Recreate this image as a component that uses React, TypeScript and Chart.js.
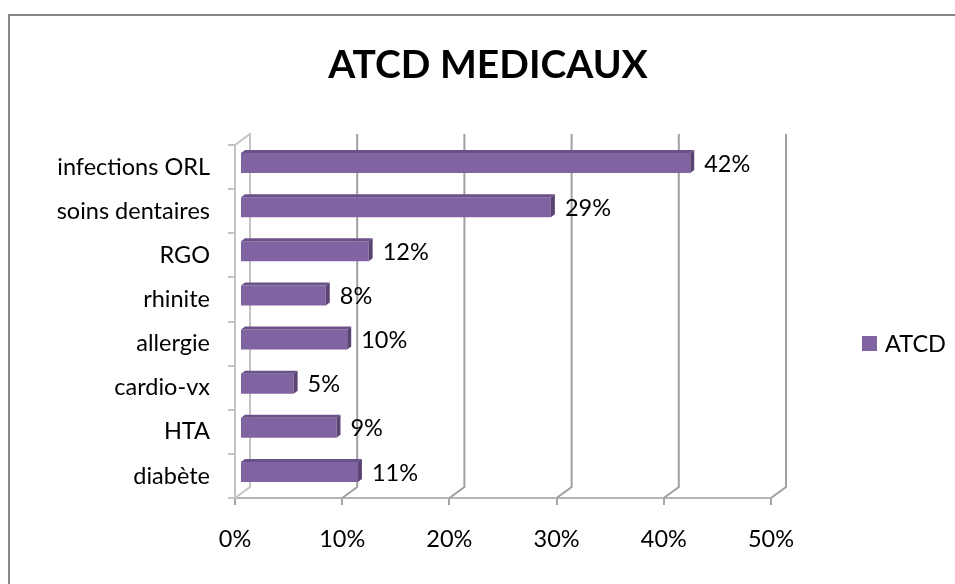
import React, { useEffect, useRef } from "react";
import { Chart, registerables } from "chart.js";

Chart.register(...registerables);

const title = "ATCD MEDICAUX";
const seriesName = "ATCD";
const categories = [
  "infections ORL",
  "soins dentaires",
  "RGO",
  "rhinite",
  "allergie",
  "cardio-vx",
  "HTA",
  "diabète",
];
const values = [42, 29, 12, 8, 10, 5, 9, 11];
const xTickValues = [0, 10, 20, 30, 40, 50];

const FONT = 'Lato, "Liberation Sans", Arial, sans-serif';
const TEXT_SIZE = 23.5;
const PURPLE = "#8064A2";
const PURPLE_TOP = "#6B5189";
const PURPLE_SIDE = "#5A4474";
const WALL_DX = 15;
const WALL_DY = -11;
const BAR_DX = 5;
const BAR_DY = -4;
const BAR_DEPTH_X = 4;
const BAR_DEPTH_Y = -3;

const decorPlugin = {
  id: "decor",
  beforeDraw(chart: any) {
    const ctx = chart.ctx as CanvasRenderingContext2D;
    ctx.save();
    ctx.fillStyle = "#ffffff";
    ctx.fillRect(0, 0, chart.width, chart.height);
    // outer border
    ctx.strokeStyle = "#868686";
    ctx.lineWidth = 2;
    ctx.beginPath();
    ctx.moveTo(9, chart.height + 5);
    ctx.lineTo(9, 15);
    ctx.lineTo(chart.width + 5, 15);
    ctx.stroke();
    // title
    ctx.fillStyle = "#000000";
    ctx.font = `bold 39px ${FONT}`;
    ctx.textAlign = "center";
    ctx.textBaseline = "alphabetic";
    ctx.fillText(title, 488, 78);
    // legend
    ctx.fillStyle = PURPLE;
    ctx.fillRect(862, 336, 15, 15);
    ctx.fillStyle = "#000000";
    ctx.font = `${TEXT_SIZE}px ${FONT}`;
    ctx.textAlign = "left";
    ctx.textBaseline = "middle";
    ctx.fillText(seriesName, 885, 344);
    ctx.restore();
  },
  beforeDatasetsDraw(chart: any) {
    const ctx = chart.ctx as CanvasRenderingContext2D;
    const xs = chart.scales.x;
    const area = chart.chartArea;
    ctx.save();
    ctx.lineWidth = 2;
    // left wall
    ctx.strokeStyle = "#c4c4c4";
    ctx.beginPath();
    ctx.moveTo(area.left, area.top);
    ctx.lineTo(area.left + WALL_DX, area.top + WALL_DY);
    ctx.lineTo(area.left + WALL_DX, area.bottom + WALL_DY);
    ctx.lineTo(area.left, area.bottom);
    ctx.stroke();
    // back wall gridlines and floor diagonals
    xTickValues.forEach((v) => {
      if (v === 0) return;
      const px = xs.getPixelForValue(v);
      ctx.strokeStyle = "#a0a0a0";
      ctx.beginPath();
      ctx.moveTo(px + WALL_DX, area.top + WALL_DY);
      ctx.lineTo(px + WALL_DX, area.bottom + WALL_DY);
      ctx.lineTo(px, area.bottom);
      ctx.stroke();
    });
    ctx.restore();
    ctx.save();
    ctx.translate(BAR_DX, BAR_DY);
  },
  afterDatasetsDraw(chart: any) {
    const ctx = chart.ctx as CanvasRenderingContext2D;
    const meta = chart.getDatasetMeta(0);
    meta.data.forEach((bar: any) => {
      const x0 = Math.min(bar.base, bar.x);
      const x1 = Math.max(bar.base, bar.x);
      const top = bar.y - bar.height / 2;
      const bottom = bar.y + bar.height / 2;
      ctx.fillStyle = PURPLE_TOP;
      ctx.beginPath();
      ctx.moveTo(x0, top);
      ctx.lineTo(x1, top);
      ctx.lineTo(x1 + BAR_DEPTH_X, top + BAR_DEPTH_Y);
      ctx.lineTo(x0 + BAR_DEPTH_X, top + BAR_DEPTH_Y);
      ctx.closePath();
      ctx.fill();
      ctx.fillStyle = PURPLE_SIDE;
      ctx.beginPath();
      ctx.moveTo(x1, top);
      ctx.lineTo(x1 + BAR_DEPTH_X, top + BAR_DEPTH_Y);
      ctx.lineTo(x1 + BAR_DEPTH_X, bottom + BAR_DEPTH_Y);
      ctx.lineTo(x1, bottom);
      ctx.closePath();
      ctx.fill();
    });
    ctx.restore();
    // data labels
    ctx.save();
    ctx.fillStyle = "#000000";
    ctx.font = `${TEXT_SIZE}px ${FONT}`;
    ctx.textAlign = "left";
    ctx.textBaseline = "middle";
    meta.data.forEach((bar: any, i: number) => {
      ctx.fillText(
        values[i] + "%",
        bar.x + BAR_DX + BAR_DEPTH_X + 10,
        bar.y + BAR_DY + 1
      );
    });
    ctx.restore();
  },
};

export default function App() {
  const ref = useRef<HTMLCanvasElement | null>(null);
  useEffect(() => {
    if (!ref.current) return;
    const chart = new Chart(ref.current, {
      type: "bar",
      data: {
        labels: categories,
        datasets: [
          {
            label: seriesName,
            data: values,
            backgroundColor: PURPLE,
            borderWidth: 0,
            categoryPercentage: 1,
            barPercentage: 0.455,
            clip: false as any,
          },
        ],
      },
      options: {
        indexAxis: "y",
        animation: false,
        responsive: false,
        devicePixelRatio: 1,
        layout: { padding: { top: 145, right: 184, left: 0, bottom: 0 } },
        plugins: {
          legend: { display: false },
          title: { display: false },
          tooltip: { enabled: false },
        },
        scales: {
          x: {
            type: "linear",
            min: 0,
            max: 50,
            afterFit: (s: any) => {
              s.height = 86;
            },
            afterBuildTicks: (s: any) => {
              s.ticks = xTickValues.map((v) => ({ value: v }));
            },
            ticks: {
              callback: (v: any) => v + "%",
              color: "#000000",
              font: { family: FONT, size: TEXT_SIZE },
              padding: 20,
            },
            grid: {
              drawOnChartArea: false,
              tickLength: 7,
              color: "#a6a6a6",
              lineWidth: 2,
            },
            border: { color: "#b4b4b4", width: 2 },
          },
          y: {
            type: "category",
            afterFit: (s: any) => {
              s.width = 235;
            },
            ticks: {
              color: "#000000",
              font: { family: FONT, size: TEXT_SIZE },
              padding: 18,
            },
            grid: {
              offset: true,
              drawOnChartArea: false,
              tickLength: 7,
              color: "#c4c4c4",
              lineWidth: 2,
            },
            border: { color: "#c4c4c4", width: 2 },
          },
        },
      },
      plugins: [decorPlugin],
    });
    return () => chart.destroy();
  }, []);
  return (
    <canvas
      ref={ref}
      width={955}
      height={584}
      style={{ position: "absolute", left: 0, top: 0, width: 955, height: 584 }}
    />
  );
}
